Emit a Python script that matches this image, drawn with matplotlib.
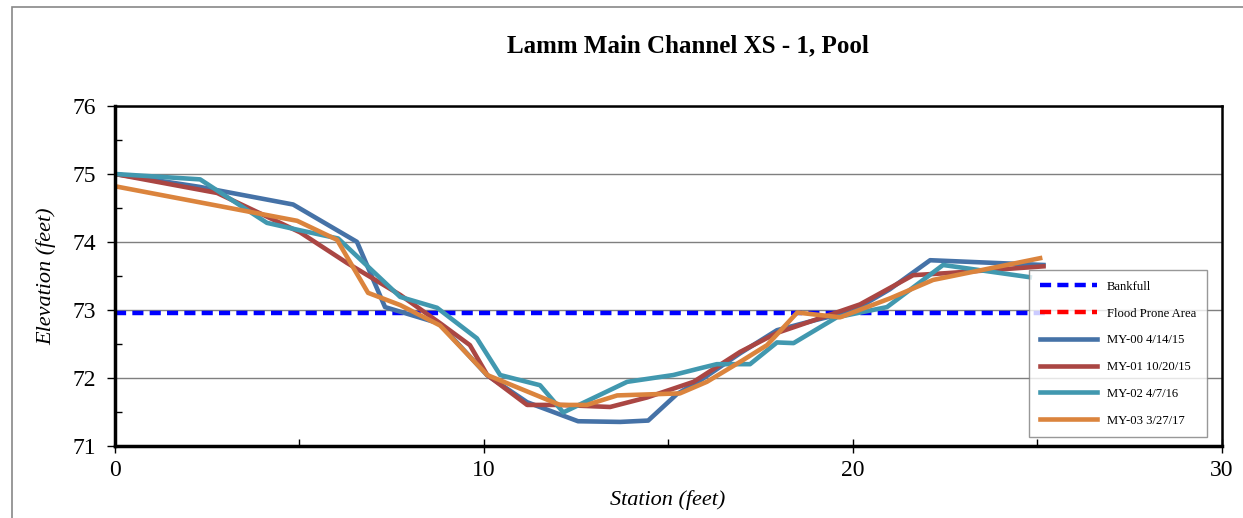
import numpy as np
import matplotlib.pyplot as plt
from matplotlib.patches import Rectangle
from matplotlib.ticker import MultipleLocator

plt.rcParams['font.family'] = ['Liberation Serif', 'DejaVu Serif']

# survey data (station ft, elevation ft)
x00 = [0.0, 2.3, 4.84, 6.57, 7.33, 8.8, 10.09, 11.18, 12.56, 13.7, 14.46, 15.24, 15.87, 16.95, 17.95, 19.0, 20.0, 21.0, 22.1, 25.17]
y00 = [75.0, 74.81, 74.55, 74.0, 73.04, 72.8, 72.04, 71.64, 71.36, 71.35, 71.37, 71.76, 71.96, 72.36, 72.7, 72.85, 72.98, 73.3, 73.73, 73.66]

x01 = [0.0, 2.78, 5.03, 6.3, 7.74, 8.83, 9.63, 10.1, 11.18, 12.07, 13.43, 14.43, 15.69, 16.95, 17.95, 18.49, 20.2, 21.64, 22.56, 25.17]
y01 = [75.0, 74.72, 74.14, 73.69, 73.22, 72.8, 72.48, 72.04, 71.6, 71.6, 71.57, 71.71, 71.94, 72.38, 72.66, 72.76, 73.08, 73.51, 73.54, 73.64]

x02 = [0.0, 2.32, 4.13, 5.03, 6.06, 7.74, 8.74, 9.82, 10.45, 11.53, 12.16, 13.89, 15.14, 15.87, 16.32, 17.22, 17.95, 18.4, 19.57, 20.93, 22.45, 24.8]
y02 = [75.0, 74.92, 74.28, 74.17, 74.05, 73.19, 73.03, 72.58, 72.04, 71.89, 71.49, 71.94, 72.04, 72.14, 72.2, 72.2, 72.52, 72.51, 72.89, 73.04, 73.66, 73.48]

x03 = [0.0, 4.95, 6.03, 6.87, 7.74, 8.82, 10.1, 12.07, 12.8, 13.62, 15.32, 16.05, 17.03, 17.68, 18.5, 19.66, 21.02, 22.18, 25.08]
y03 = [74.82, 74.31, 74.03, 73.25, 73.07, 72.77, 72.04, 71.6, 71.6, 71.74, 71.77, 71.94, 72.26, 72.48, 72.96, 72.89, 73.17, 73.44, 73.76]

bankfull_x = [0.0, 25.2]
bankfull_y = [72.96, 72.96]

series = [
    ("MY-00 4/14/15", x00, y00, "#4572A7"),
    ("MY-01 10/20/15", x01, y01, "#AA4643"),
    ("MY-02 4/7/16", x02, y02, "#4198AF"),
    ("MY-03 3/27/17", x03, y03, "#DB843D"),
]

fig = plt.figure(figsize=(12.43, 5.18), dpi=100)
ax = fig.add_axes([114.5/1243, 1-445.7/518, (1221.7-114.5)/1243, (445.7-106)/518])

# outer chart border
fig.patches.append(Rectangle((12/1243, -0.1), 1.2, 1.1 - 7/518, transform=fig.transFigure,
                             fill=False, edgecolor='#888888', lw=1.2))

ax.plot(bankfull_x, bankfull_y, color='#0000FF', lw=3.2, dashes=(2.5, 1.4), label='Bankfull')
ax.plot([], [], color='#FF0000', lw=3.2, dashes=(2.5, 1.4), label='Flood Prone Area')
for name, xs, ys, c in series:
    ax.plot(xs, ys, color=c, lw=3.3, label=name)

ax.set_xlim(0, 30)
ax.set_ylim(71, 76)
ax.xaxis.set_major_locator(MultipleLocator(10))
ax.xaxis.set_minor_locator(MultipleLocator(5))
ax.yaxis.set_major_locator(MultipleLocator(1))
ax.yaxis.set_minor_locator(MultipleLocator(0.5))
ax.grid(axis='y', which='major', color='#7f7f7f', lw=1)
ax.set_axisbelow(True)

ax.tick_params(axis='y', which='major', direction='out', length=6, width=1, labelsize=17, pad=7)
ax.tick_params(axis='y', which='minor', direction='in', length=5, width=1)
ax.tick_params(axis='x', which='major', direction='inout', length=10, width=1, labelsize=17, pad=5)
ax.tick_params(axis='x', which='minor', direction='in', length=5, width=1)

for s in ['left', 'bottom']:
    ax.spines[s].set_linewidth(2.5)
for s in ['top', 'right']:
    ax.spines[s].set_linewidth(1.8)

ax.set_xlabel('Station (feet)', fontsize=16, style='italic', labelpad=7)
ax.set_ylabel('Elevation (feet)', fontsize=16, style='italic', labelpad=12)
fig.text(688/1243, 1-46/518, 'Lamm Main Channel XS - 1, Pool', fontsize=18, fontweight='bold',
         ha='center', va='center')

leg = ax.legend(loc='upper left', bbox_to_anchor=(1029/1243, 1-270/518),
                bbox_transform=fig.transFigure, fontsize=9.1, frameon=True, fancybox=False,
                handlelength=4.5, labelspacing=1.17, borderpad=0.85, handletextpad=0.8,
                borderaxespad=0)
leg.get_frame().set_edgecolor('#7f7f7f')
leg.get_frame().set_linewidth(1)

fig.savefig('out.png', dpi=100)
